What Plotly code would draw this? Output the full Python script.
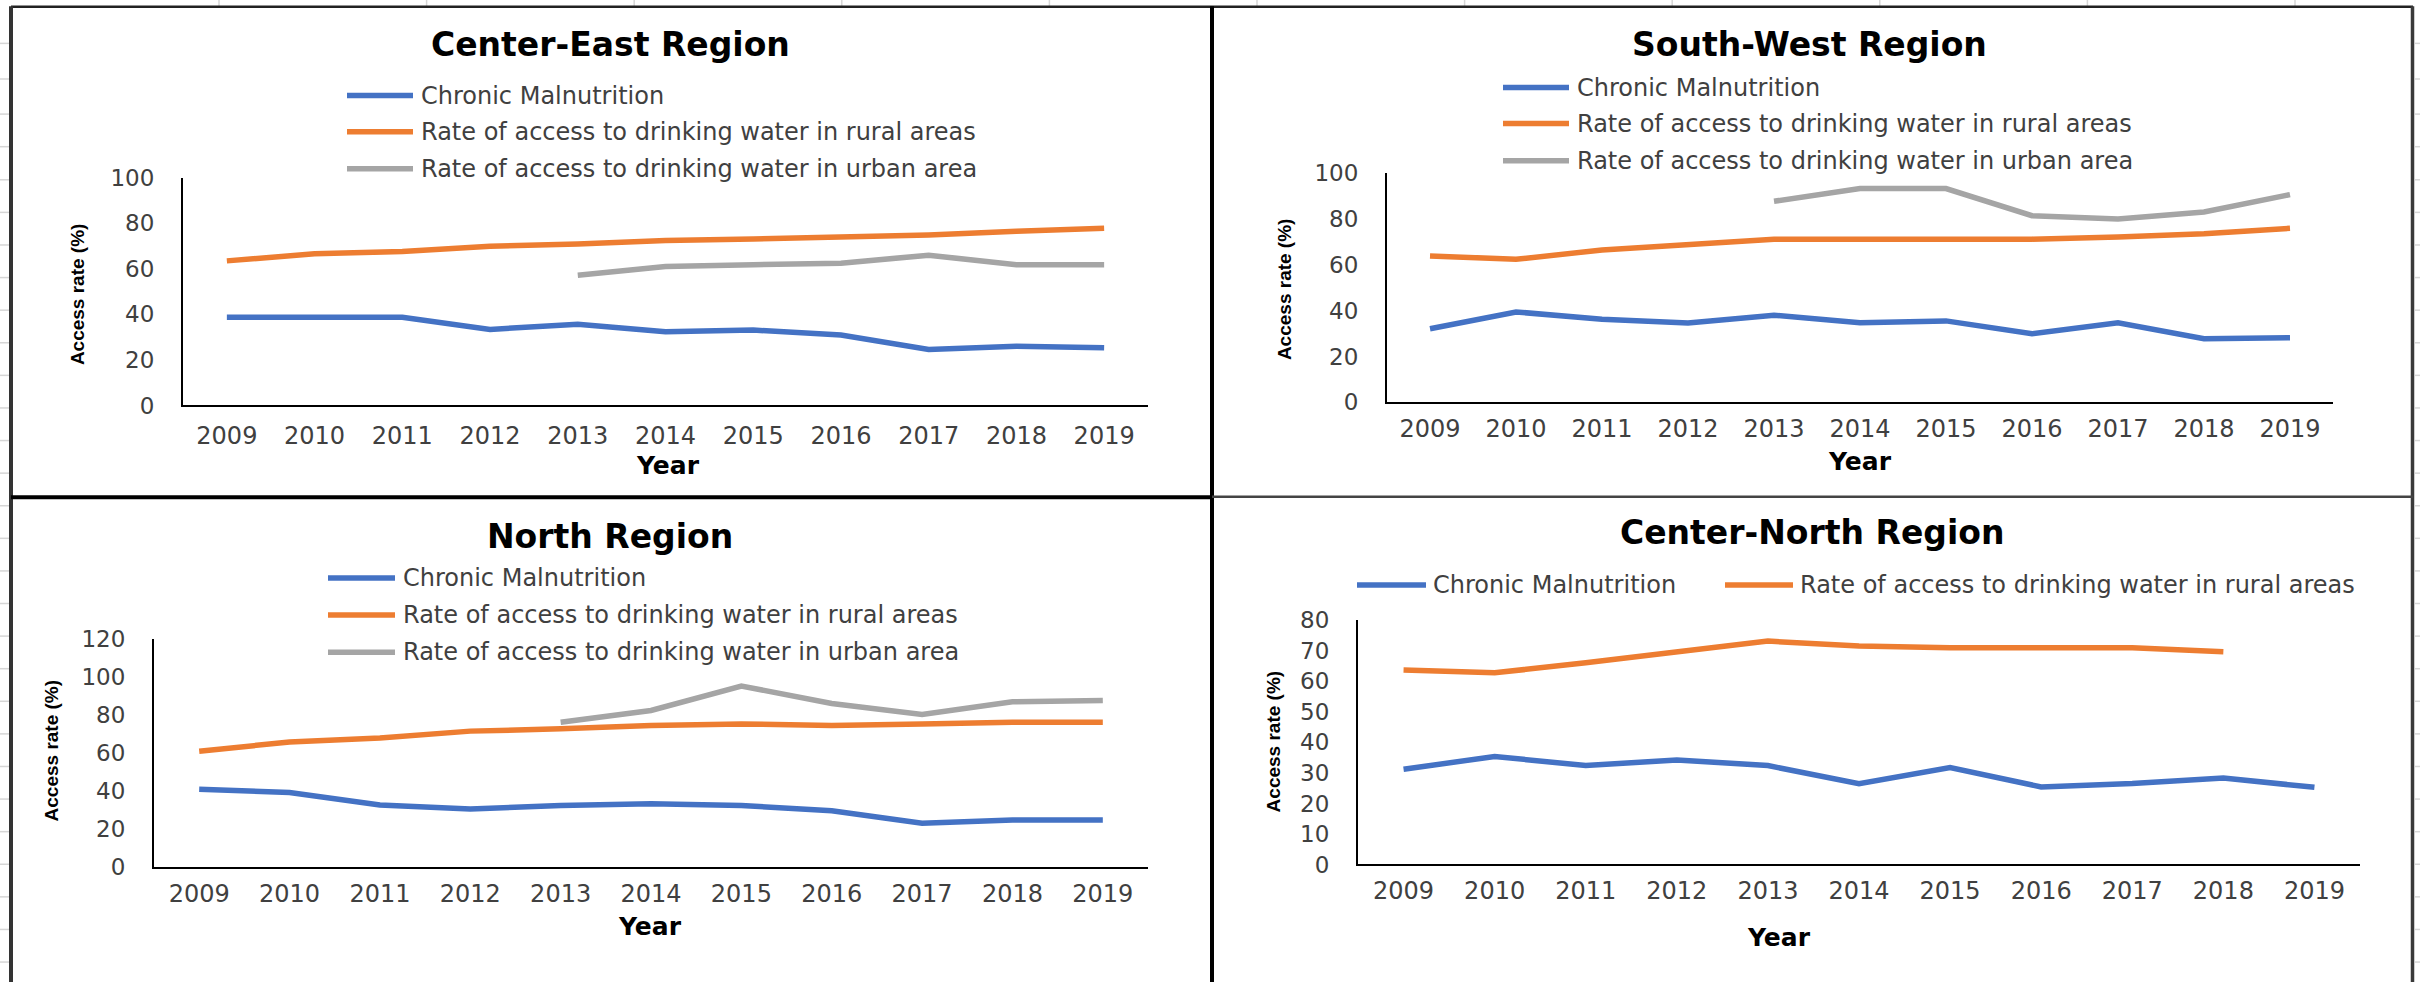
import plotly.graph_objects as go

# ---------------------------------------------------------------- data
years = [2009, 2010, 2011, 2012, 2013, 2014, 2015, 2016, 2017, 2018, 2019]
year_labels = [str(y) for y in years]

series_names = [
    "Chronic Malnutrition",
    "Rate of access to drinking water in rural areas",
    "Rate of access to drinking water in urban area",
]

# Center-East Region
ce_malnutrition = [38.7, 38.7, 38.7, 33.4, 35.7, 32.4, 33.1, 30.9, 24.6, 26.0, 25.3]
ce_rural = [63.5, 66.6, 67.6, 69.9, 70.9, 72.4, 73.1, 74.0, 74.9, 76.5, 77.8]
ce_urban = [None, None, None, None, 57.2, 61.0, 61.8, 62.5, 66.0, 61.8, 61.8]

# South-West Region
sw_malnutrition = [32.1, 39.4, 36.2, 34.6, 38.0, 34.7, 35.5, 29.9, 34.7, 27.7, 28.2]
sw_rural = [63.8, 62.3, 66.4, 68.6, 71.1, 71.1, 71.1, 71.1, 72.0, 73.4, 75.8]
sw_urban = [None, None, None, None, 87.6, 93.1, 93.1, 81.3, 79.9, 82.9, 90.5]

# North Region
n_malnutrition = [40.9, 39.2, 32.6, 30.5, 32.3, 33.2, 32.3, 29.5, 22.9, 24.7, 24.7]
n_rural = [60.9, 65.8, 67.9, 71.5, 72.7, 74.5, 75.3, 74.5, 75.3, 76.2, 76.2]
n_urban = [None, None, None, None, 76.2, 82.4, 95.3, 86.1, 80.3, 87.0, 87.7]

# Center-North Region
cn_malnutrition = [31.2, 35.4, 32.4, 34.2, 32.4, 26.5, 31.8, 25.4, 26.5, 28.3, 25.3]
cn_rural = [63.7, 62.8, 66.1, 69.5, 73.2, 71.6, 71.0, 71.0, 71.0, 69.7, None]

# ---------------------------------------------------------------- layout helpers
W, H = 2420, 982
BLUE, ORANGE, GRAY = "#4472C4", "#ED7D31", "#A5A5A5"
COLORS = [BLUE, ORANGE, GRAY]
FONT = "DejaVu Sans"
TICK_COLOR = "#404040"

# vertical placement of the sheet content on the page
TOP_SHIFT = 13.7
V_SCALE = 0.9707


def px(x):
    return x / W


def py(y):
    return 1 - (y - TOP_SHIFT) / (V_SCALE * H)


panels = [
    dict(title="Center-East Region", series=[ce_malnutrition, ce_rural, ce_urban],
         xdom=(183, 1148), ydom=(405, 178), yrange=(0, 100), dtick=20, xstand=8,
         title_xy=(610, 45), ytitle_xy=(77, 294), xtitle_xy=(668, 465),
         legend=[(347, 413, 419, 96), (347, 413, 419, 132), (347, 413, 419, 169)]),
    dict(title="South-West Region", series=[sw_malnutrition, sw_rural, sw_urban],
         xdom=(1387, 2333), ydom=(402, 173), yrange=(0, 100), dtick=20, xstand=4,
         title_xy=(1810, 45), ytitle_xy=(1284, 289), xtitle_xy=(1860, 461),
         legend=[(1503, 1569, 1575, 88), (1503, 1569, 1575, 124), (1503, 1569, 1575, 161)]),
    dict(title="North Region", series=[n_malnutrition, n_rural, n_urban],
         xdom=(154, 1148), ydom=(865, 638), yrange=(0, 120), dtick=20, xstand=4,
         title_xy=(610, 536), ytitle_xy=(51, 749), xtitle_xy=(650, 925),
         legend=[(328, 395, 401, 577), (328, 395, 401, 614), (328, 395, 401, 651)]),
    dict(title="Center-North Region", series=[cn_malnutrition, cn_rural],
         xdom=(1358, 2360), ydom=(862.7, 619.3), yrange=(0, 80), dtick=10, xstand=4,
         title_xy=(1812, 532), ytitle_xy=(1273, 740), xtitle_xy=(1779, 936),
         legend=[(1357, 1426, 1431, 584), (1725, 1793, 1798, 584)]),
]

fig = go.Figure()
shapes = []
annotations = []

for i, p in enumerate(panels, start=1):
    suffix = "" if i == 1 else str(i)
    for k, values in enumerate(p["series"]):
        fig.add_trace(go.Scatter(
            x=years, y=values, mode="lines", name=series_names[k],
            line=dict(color=COLORS[k], width=5.5),
            connectgaps=False, showlegend=False,
            xaxis="x" + suffix, yaxis="y" + suffix,
        ))

    fig.update_layout({
        "xaxis" + suffix: dict(
            domain=[px(p["xdom"][0]), px(p["xdom"][1])],
            anchor="y" + suffix, range=[2008.5, 2019.5],
            tickmode="array", tickvals=years, ticktext=year_labels,
            showgrid=False, zeroline=False, showline=True,
            linecolor="#000000", linewidth=2, ticks="",
            ticklabelstandoff=p["xstand"],
            tickfont=dict(family=FONT, size=24, color=TICK_COLOR),
            fixedrange=True,
        ),
        "yaxis" + suffix: dict(
            domain=[py(p["ydom"][0]), py(p["ydom"][1])],
            anchor="x" + suffix, range=list(p["yrange"]), dtick=p["dtick"],
            tick0=0, showgrid=False, zeroline=False, showline=True,
            linecolor="#000000", linewidth=2, ticks="",
            ticklabelstandoff=22,
            tickfont=dict(family=FONT, size=23, color=TICK_COLOR),
            fixedrange=True,
        ),
    })

    # chart title
    annotations.append(dict(
        text="<b>" + p["title"] + "</b>", x=px(p["title_xy"][0]), y=py(p["title_xy"][1]),
        xref="paper", yref="paper", showarrow=False, xanchor="center", yanchor="middle",
        font=dict(family=FONT, size=33, color="#000000"),
    ))
    # axis titles
    annotations.append(dict(
        text="<b>Access rate (%)</b>", x=px(p["ytitle_xy"][0]), y=py(p["ytitle_xy"][1]),
        xref="paper", yref="paper", showarrow=False, xanchor="center", yanchor="middle",
        textangle=-90, font=dict(family="Liberation Sans", size=19, color="#000000"),
    ))
    annotations.append(dict(
        text="<b>Year</b>", x=px(p["xtitle_xy"][0]), y=py(p["xtitle_xy"][1]),
        xref="paper", yref="paper", showarrow=False, xanchor="center", yanchor="middle",
        font=dict(family=FONT, size=25, color="#000000"),
    ))
    # legend entries
    for k, (x0, x1, xt, yl) in enumerate(p["legend"]):
        shapes.append(dict(
            type="line", xref="paper", yref="paper",
            x0=px(x0), x1=px(x1), y0=py(yl), y1=py(yl),
            line=dict(color=COLORS[k], width=5.5),
        ))
        annotations.append(dict(
            text=series_names[k], x=px(xt), y=py(yl),
            xref="paper", yref="paper", showarrow=False, xanchor="left", yanchor="middle",
            font=dict(family=FONT, size=24, color=TICK_COLOR),
        ))

# ---------------------------------------------------------------- sheet grid behind the charts
GRID = "#d6d6d6"
col_x = [219 + 207.6 * k for k in range(11)]
for cx in col_x:
    shapes.append(dict(type="line", xref="paper", yref="paper", layer="below",
                       x0=px(cx), x1=px(cx), y0=py(-20), y1=py(7),
                       line=dict(color=GRID, width=1.5)))
row_y = [44, 79.5, 114.5, 147] + [180 + 32.5 * k for k in range(26) if 180 + 32.5 * k < H + 20]
for ry in row_y:
    shapes.append(dict(type="line", xref="paper", yref="paper", layer="below",
                       x0=px(0), x1=px(9), y0=py(ry), y1=py(ry),
                       line=dict(color=GRID, width=1.5)))
    shapes.append(dict(type="line", xref="paper", yref="paper", layer="below",
                       x0=px(2415), x1=px(W), y0=py(ry), y1=py(ry),
                       line=dict(color=GRID, width=1.5)))

# ---------------------------------------------------------------- chart frames
BOTTOM = H + 20
frame = [
    (11, 7.5, 2413, 7.5, "#222222", 2.5),            # top
    (11, 7, 11, BOTTOM, "#333333", 4),               # left
    (2412.5, 7, 2412.5, BOTTOM, "#3a3a3a", 3.5),     # right
    (1212, 7, 1212, BOTTOM, "#000000", 4),           # middle vertical
    (11, 496.5, 1212, 496.5, "#000000", 4),          # middle horizontal, left
    (1212, 496, 2413, 496, "#444444", 2.5),          # middle horizontal, right
]
for x0, y0, x1, y1, color, width in frame:
    shapes.append(dict(type="line", xref="paper", yref="paper",
                       x0=px(x0), x1=px(x1), y0=py(y0), y1=py(y1),
                       line=dict(color=color, width=width)))

fig.update_layout(
    width=W, height=H,
    margin=dict(l=0, r=0, t=0, b=0),
    paper_bgcolor="#ffffff", plot_bgcolor="rgba(0,0,0,0)",
    showlegend=False,
    shapes=shapes, annotations=annotations,
    font=dict(family=FONT),
)

fig.write_html("out.html", config={"displayModeBar": False})
